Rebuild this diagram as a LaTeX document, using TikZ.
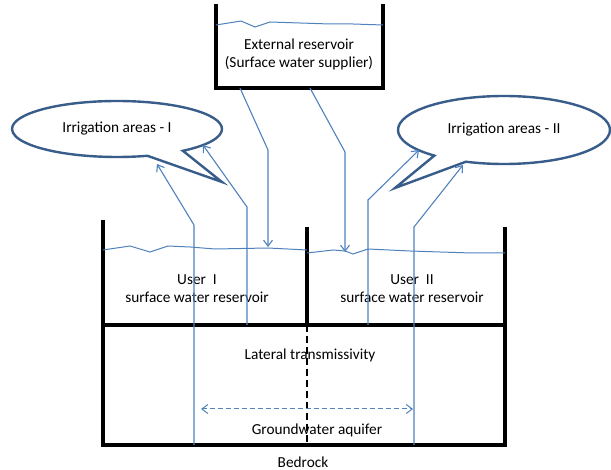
\documentclass[tikz,border=0pt]{standalone}
\usepackage{fontspec}
\setmainfont{Carlito}
\usetikzlibrary{arrows.meta, shapes.callouts, positioning}
\definecolor{feedblue}{RGB}{79,129,189}
\definecolor{bubbleblue}{RGB}{56,93,138}

\begin{document}
\begin{tikzpicture}[x=1pt, y=-1pt,
        wall/.style={line width=3.6pt, line join=miter},
        water/.style={draw=feedblue, line width=1pt},
        feed/.style={draw=feedblue, line width=1.1pt, -{Straight Barb[length=6pt, width=9pt]}},
        label/.style={font=\fontsize{15.3}{18}\selectfont, align=center, inner sep=1pt},
        bubble/.style={ellipse callout, draw=bubbleblue, line width=2.4pt, fill=white,
            inner sep=0pt, font=\fontsize{15.3}{18}\selectfont}
    ]
    \useasboundingbox (0,0) rectangle (611,470);

    % external reservoir
    \draw[wall] (216,4) -- (216,88) -- (383,88) -- (383,4);
    \draw[water] (216,25) -- (241,21) -- (255,27) -- (270,22) -- (300,23) -- (330,24) -- (353,24) -- (383,25);
    \node[label] (ext) at (299,54) {External reservoir\\(Surface water supplier)};

    % user reservoirs and aquifer
    \draw[wall] (103,220) -- (103,445) -- (505,445) -- (505,227);
    \draw[wall] (103,325) -- (505,325);
    \draw[wall] (307,227) -- (307,325);
    \draw[dashed, line width=1.3pt, dash pattern=on 7pt off 4pt] (307,325) -- (307,445);
    \draw[water] (103,250) -- (130,246) -- (150,252) -- (168,246) -- (190,247) -- (215,249) -- (268,248) -- (307,250);
    \draw[water] (307,253) -- (333,250) -- (345,251) -- (353,254) -- (368,249) -- (410,251) -- (440,252) -- (472,253) -- (505,253);

    \node[label] (userI) at (197,289) {User\ \ I\\surface water reservoir};
    \node[label] (userII) at (412,289) {User\ \ II\\surface water reservoir};
    \node[label] (lateral) at (310,355) {Lateral transmissivity};
    \node[label] (aquifer) at (317,430) {Groundwater aquifer};
    \node[label] (bedrock) at (303,462) {Bedrock};

    % irrigation areas
    \node[bubble, minimum width=210pt, minimum height=56pt, callout pointer arc=22,
        callout absolute pointer={(222,182)}] (irrI) at (117,129) {Irrigation areas - I};
    \node[bubble, minimum width=212pt, minimum height=68pt, callout pointer arc=20,
        callout absolute pointer={(395,188)}] (irrII) at (504,130) {Irrigation areas - II};

    % flow paths
    \coordinate (supI) at (240,88);
    \coordinate (supII) at (310,88);
    \coordinate (inI) at (268,247);
    \coordinate (inII) at (345,252);
    \coordinate (tipA) at (157,164);
    \coordinate (tipB) at (203,145);
    \coordinate (tipD) at (419,150);
    \coordinate (tipC) at (463,165);

    \draw[feed] (supI) -- (268,150) -- (inI);
    \draw[feed] (supII) -- (345,152) -- (inII);
    \draw[feed] (194,445) -- (194,225) -- (tipA);
    \draw[feed] (247,325) -- (247,207) -- (tipB);
    \draw[feed] (368,325) -- (368,200) -- (tipD);
    \draw[feed] (414,445) -- (414,227) -- (tipC);
    \draw[feed, {Straight Barb[length=6pt, width=9pt]}-{Straight Barb[length=6pt, width=9pt]}, dash pattern=on 5pt off 3pt, line width=1pt]
        (201,409) -- (413,409);
\end{tikzpicture}
\end{document}
